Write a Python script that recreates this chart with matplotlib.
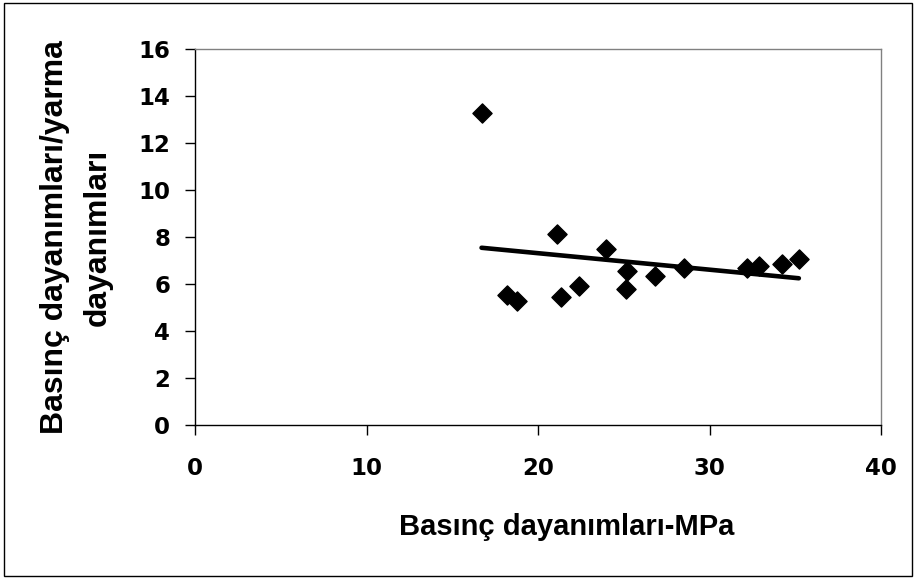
import numpy as np
import matplotlib.pyplot as plt
from matplotlib.patches import Rectangle

plt.rcParams['font.family'] = ['Liberation Sans', 'DejaVu Sans']
plt.rcParams['font.weight'] = 'bold'

# compressive strength (MPa) vs compressive/splitting strength ratio
basinc = [16.7, 18.2, 18.75, 21.1, 21.35, 22.4, 23.95, 25.1, 25.2,
          26.8, 28.5, 32.2, 32.9, 34.2, 35.2]
oran = [13.3, 5.55, 5.3, 8.15, 5.45, 5.93, 7.5, 5.8, 6.57,
        6.35, 6.7, 6.67, 6.75, 6.85, 7.05]

x_ticks = [0, 10, 20, 30, 40]
y_ticks = [0, 2, 4, 6, 8, 10, 12, 14, 16]

x = np.array(basinc)
y = np.array(oran)

fig = plt.figure(figsize=(9.16, 5.79), dpi=100)
ax = fig.add_axes([0.213, 0.266, 0.749, 0.649])

ax.scatter(x, y, marker='D', s=95, color='black', zorder=3)

# linear trendline (least squares)
k, b = np.polyfit(x, y, 1)
xl = np.array([x.min(), x.max()])
ax.plot(xl, k * xl + b, color='black', lw=3.3, solid_capstyle='round', zorder=2)

ax.set_xlim(0, 40)
ax.set_ylim(0, 16)
ax.set_xticks(x_ticks)
ax.set_yticks(y_ticks)
ax.tick_params(axis='both', length=7, width=1, direction='out')
ax.tick_params(axis='x', pad=16)
ax.tick_params(axis='y', pad=11)
for lab in ax.get_xticklabels() + ax.get_yticklabels():
    lab.set_family('DejaVu Sans')
    lab.set_fontsize(16.5)
    lab.set_fontweight('bold')

for s in ['top', 'right']:
    ax.spines[s].set_color('#808080')
    ax.spines[s].set_linewidth(1)
for s in ['left', 'bottom']:
    ax.spines[s].set_color('black')
    ax.spines[s].set_linewidth(1)

ax.set_xlabel('Basınç dayanımları-MPa', fontsize=21, fontweight='bold', labelpad=26)
ax.xaxis.set_label_coords(0.541, -0.235)
ax.set_ylabel('Basınç dayanımları/yarma\ndayanımları', fontsize=23,
              fontweight='bold', labelpad=18, linespacing=1.55)

# outer chart border
fig.patches.append(Rectangle((0.004, 0.006), 0.992, 0.988, transform=fig.transFigure,
                             fill=False, edgecolor='black', lw=1))

fig.savefig('out.png', dpi=100)
